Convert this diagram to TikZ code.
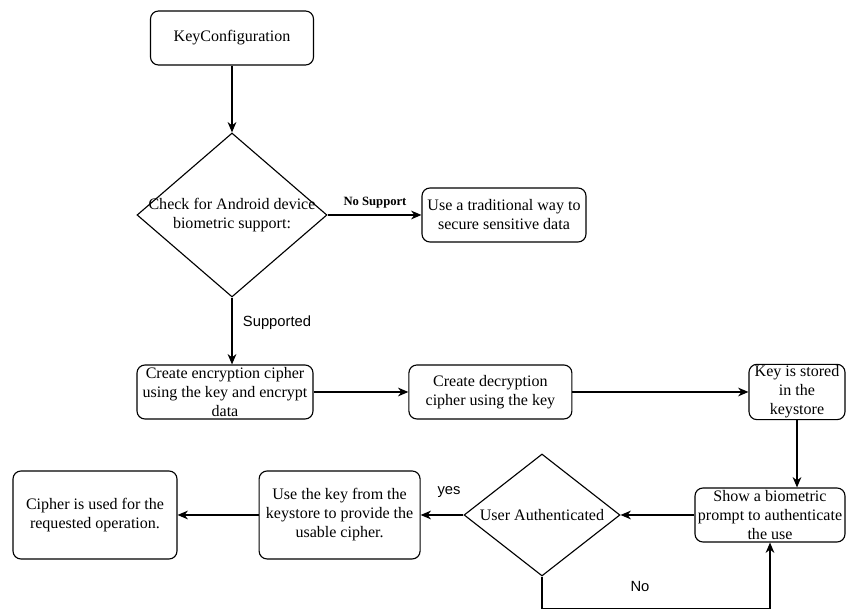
\documentclass[tikz,border=0pt]{standalone}
\usepackage{fontspec}
\setmainfont{Liberation Serif}
\setsansfont{Liberation Sans}
\usetikzlibrary{positioning,arrows.meta,shapes.geometric}

\begin{document}
\begin{tikzpicture}[
    procbox/.style={rectangle, rounded corners=2mm, draw, line width=0.8pt,
      inner sep=1pt, align=center, font=\fontsize{11.4}{13.5}\selectfont},
    decision/.style={diamond, draw, line width=0.8pt, inner sep=0pt},
    decisiontext/.style={align=center, font=\fontsize{11.4}{13.5}\selectfont},
    flow/.style={-{Stealth[length=2.6mm, width=2.2mm]}, line width=0.8pt},
    choicelabel/.style={font=\sffamily\fontsize{10.5}{12}\selectfont},
    nolabel/.style={font=\bfseries\fontsize{9}{11}\selectfont},
  ]
  \useasboundingbox (0,0) rectangle (21.15,15.25);

  % Top: key configuration and support check
  \node[procbox, minimum width=4.075cm, minimum height=1.35cm] (keycfg)
  at (5.8,14.3) {KeyConfiguration};

  \node[decision, minimum width=4.75cm, minimum height=4.1cm,
  label={[decisiontext]center:{Check for Android device\\biometric support:}}]
  (check) at (5.8,9.875) {};

  \node[procbox, minimum width=4.1cm, minimum height=1.35cm] (trad)
  at (12.6,9.875) {Use a traditional way to\\secure sensitive data};

  \draw[flow] (keycfg) -- (check);
  \draw[flow] (check.east) -- (trad.west);
  \node[nolabel] (nosupport) at (9.375,10.175) {No Support};

  % Middle row: ciphers and keystore
  \node[procbox, minimum width=4.4cm, minimum height=1.35cm] (encrypt)
  at (5.625,5.45) {Create encryption cipher\\using the key and encrypt\\data};
  \node[procbox, minimum width=4.075cm, minimum height=1.35cm] (decrypt)
  at (12.26,5.45) {Create decryption\\cipher using the key};
  \node[procbox, minimum width=2.4cm, minimum height=1.35cm] (stored)
  at (19.925,5.45) {Key is stored\\in the\\keystore};

  \draw[flow] (check.south) -- (check.south |- encrypt.north);
  \node[choicelabel, anchor=west] (supported) at (5.95,7.175) {Supported};
  \draw[flow] (encrypt) -- (decrypt);
  \draw[flow] (decrypt) -- (stored);

  % Bottom row: biometric prompt and result
  \node[procbox, minimum width=3.75cm, minimum height=1.35cm] (prompt)
  at (19.25,2.375) {Show a biometric\\prompt to authenticate\\the use};

  \node[decision, minimum width=3.9cm, minimum height=3.05cm,
  label={[decisiontext]center:User Authenticated}]
  (auth) at (13.55,2.375) {};

  \node[procbox, minimum width=4.025cm, minimum height=2.2cm] (usekey)
  at (8.49,2.375) {Use the key from the\\keystore to provide the\\usable cipher.};
  \node[procbox, minimum width=4.1cm, minimum height=2.2cm] (cipher)
  at (2.375,2.375) {Cipher is used for the\\requested operation.};

  \draw[flow] (stored.south) -- (stored.south |- prompt.north);
  \draw[flow] (prompt) -- (auth);
  \draw[flow] (auth) -- (usekey);
  \node[choicelabel] (yes) at (11.225,2.95) {yes};
  \draw[flow] (usekey) -- (cipher);
  \draw[flow] (auth.south) -- ++(0,-0.8) -| (prompt.south);
  \node[choicelabel] (no) at (16,0.575) {No};
\end{tikzpicture}
\end{document}
